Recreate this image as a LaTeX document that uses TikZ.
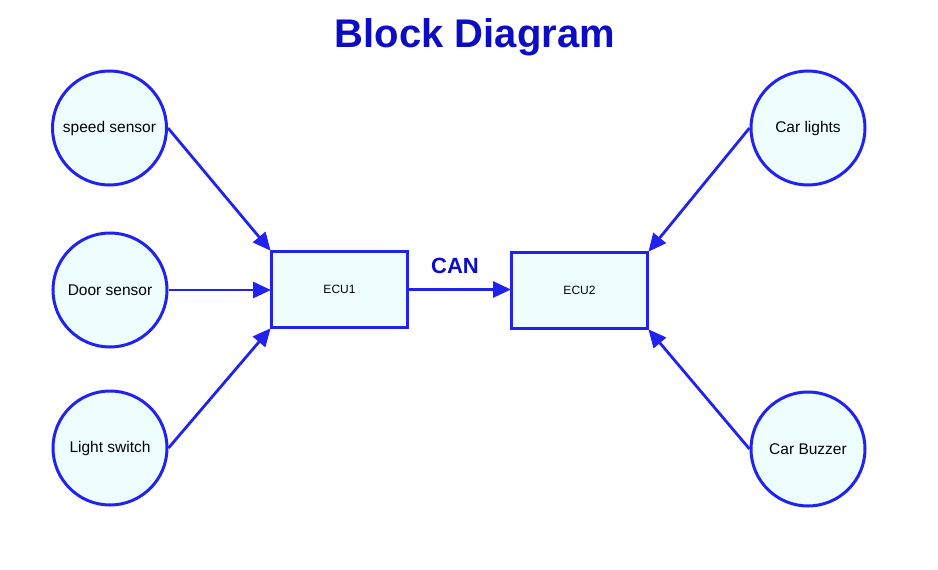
\documentclass[tikz,border=0pt]{standalone}
\usepackage{fontspec}
\setmainfont{Liberation Sans}
\usetikzlibrary{arrows.meta}
\definecolor{lineblue}{HTML}{2222EE}
\definecolor{titleblue}{HTML}{0C0CC4}
\definecolor{fillcyan}{HTML}{EEFEFE}
\tikzset{
  sensor/.style={circle, draw=lineblue, line width=3pt, fill=fillcyan, minimum size=114pt, inner sep=0pt, font=\fontsize{15.5}{18}\selectfont},
  ecubox/.style={rectangle, draw=lineblue, line width=3pt, fill=fillcyan, minimum width=136pt, minimum height=76pt, inner sep=0pt, font=\fontsize{12}{14}\selectfont},
  link/.style={draw=lineblue, line width=2.8pt, -{Triangle[length=18pt,width=16pt]}, shorten >=-1pt}
}
\begin{document}
\begin{tikzpicture}[x=1pt,y=-1pt]
\useasboundingbox (0,0) rectangle (938,570);
\node[font=\fontsize{40}{44}\bfseries, text=titleblue] (title) at (475,37) {Block Diagram};
\node[sensor] (speed) at (109.5,128) {speed sensor};
\node[sensor] (door) at (110,290) {Door sensor};
\node[sensor] (light) at (110,448) {Light switch};
\node[sensor] (lights) at (808,128) {Car lights};
\node[sensor] (buzzer) at (808,449) {Car Buzzer};
\node[ecubox] (ecu1) at (339.5,289.5) {ECU1};
\node[ecubox] (ecu2) at (579.5,290.5) {ECU2};
\node[font=\fontsize{22}{26}\bfseries, text=titleblue] (can) at (455,266) {CAN};
\draw[link] (speed.east) -- (ecu1.north west);
\draw[link] (door.east) -- (door.east -| ecu1.west);
\draw[link] (light.east) -- (ecu1.south west);
\draw[link] (ecu1.east) -- (ecu1.east -| ecu2.west);
\draw[link] (lights.west) -- (ecu2.north east);
\draw[link] (buzzer.west) -- (ecu2.south east);
\end{tikzpicture}
\end{document}
